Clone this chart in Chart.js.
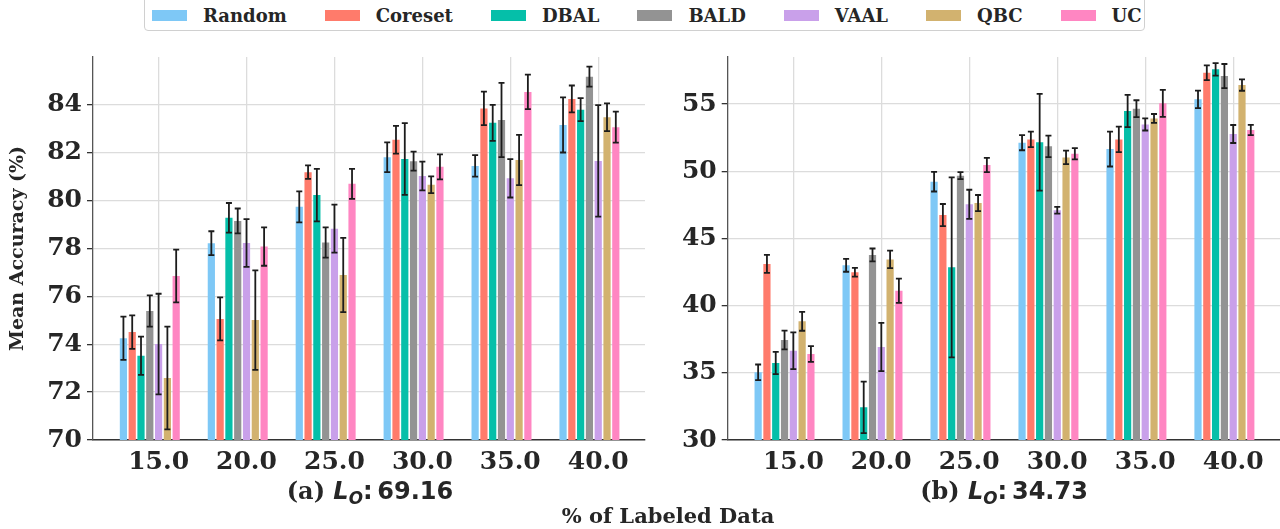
<!DOCTYPE html>
<html><head><meta charset="utf-8">
<script src="https://cdn.jsdelivr.net/npm/chart.js@4.4.1/dist/chart.umd.min.js"></script>
<style>
html,body{margin:0;padding:0;background:#fff;}
body{width:1280px;height:529px;position:relative;overflow:hidden;font-family:'DejaVu Serif',serif;}
#wa{position:absolute;left:0;top:0;width:660px;height:529px;}
#wb{position:absolute;left:660px;top:0;width:620px;height:529px;}
#legend{position:absolute;left:144px;top:-6px;width:1001px;height:37px;border:1px solid #d0d0d0;border-radius:4px;box-sizing:border-box;display:flex;align-items:center;padding-left:7px;padding-top:6px;background:#fff;z-index:5;}
.item{display:flex;align-items:center;margin-right:38px;font-weight:bold;font-size:18px;color:#262626;}
.sw{width:35px;height:11px;margin-right:16px;}
.cap{position:absolute;font-weight:bold;color:#262626;white-space:nowrap;transform:translate(-50%,-50%);font-size:24px;}
.math{font-family:'DejaVu Sans',sans-serif;font-weight:bold;}
.math sub{font-size:70%;vertical-align:-0.25em;}
</style>
</head><body>
<div id="legend"></div>
<div id="wa"><canvas id="ca" width="660" height="529"></canvas></div>
<div id="wb"><canvas id="cb" width="620" height="529"></canvas></div>
<div class="cap" style="left:370px;top:492px;">(a) <span class="math"><i>L<sub>O</sub></i>:&thinsp;69.16</span></div>
<div class="cap" style="left:1004px;top:492px;">(b) <span class="math"><i>L<sub>O</sub></i>:&thinsp;34.73</span></div>
<div class="cap" style="left:668px;top:515px;font-size:21px;">% of Labeled Data</div>
<script>
// ---- data ----
const categories = [15, 20, 25, 30, 35, 40];
const methods = ['Random', 'Coreset', 'DBAL', 'BALD', 'VAAL', 'QBC', 'UC'];
const colors = ['#7ec8f6', '#ff7b6b', '#05bfa9', '#939393', '#c9a0ea', '#d2b26f', '#ff86c2'];
const ticksA = [70, 72, 74, 76, 78, 80, 82, 84];
const ticksB = [30, 35, 40, 45, 50, 55];

// panel (a)
const randomA  = [74.25, 78.22, 79.74, 81.81, 81.45, 83.16];
const coresetA = [74.51, 75.06, 81.19, 82.54, 83.85, 84.25];
const dbalA    = [73.52, 79.28, 80.23, 81.74, 83.25, 83.80];
const baldA    = [75.39, 79.15, 78.25, 81.65, 83.37, 85.18];
const vaalA    = [74.01, 78.23, 78.83, 81.03, 80.93, 81.66];
const qbcA     = [72.59, 75.01, 76.89, 80.66, 81.70, 83.48];
const ucA      = [76.85, 78.08, 80.70, 81.41, 84.54, 83.07];
const randomErrA  = [0.90, 0.50, 0.65, 0.62, 0.45, 1.15];
const coresetErrA = [0.70, 0.90, 0.28, 0.58, 0.70, 0.56];
const dbalErrA    = [0.80, 0.62, 1.10, 1.50, 0.75, 0.48];
const baldErrA    = [0.65, 0.52, 0.63, 0.40, 1.55, 0.42];
const vaalErrA    = [2.10, 1.00, 1.00, 0.60, 0.80, 2.33];
const qbcErrA     = [2.15, 2.08, 1.55, 0.35, 1.05, 0.58];
const ucErrA      = [1.10, 0.80, 0.63, 0.52, 0.72, 0.65];

// panel (b)
const randomB  = [35.04, 43.00, 49.22, 52.12, 51.65, 55.35];
const coresetB = [43.10, 42.48, 46.74, 52.37, 52.37, 57.33];
const dbalB    = [35.73, 32.43, 42.85, 52.15, 54.48, 57.58];
const baldB    = [37.44, 43.77, 49.67, 51.85, 54.65, 57.08];
const vaalB    = [36.64, 36.92, 47.54, 47.09, 53.48, 52.77];
const qbcB     = [38.83, 43.44, 47.63, 51.03, 53.93, 56.41];
const ucB      = [36.40, 41.11, 50.46, 51.30, 55.05, 53.07];
const randomErrB  = [0.58, 0.48, 0.73, 0.56, 1.30, 0.65];
const coresetErrB = [0.67, 0.33, 0.82, 0.58, 0.95, 0.55];
const dbalErrB    = [0.83, 1.92, 6.70, 3.60, 1.20, 0.46];
const baldErrB    = [0.70, 0.48, 0.26, 0.80, 0.63, 0.90];
const vaalErrB    = [1.37, 1.80, 1.08, 0.25, 0.45, 0.67];
const qbcErrB     = [0.70, 0.65, 0.60, 0.50, 0.33, 0.42];
const ucErrB      = [0.58, 0.90, 0.53, 0.42, 1.00, 0.38];

// ---- legend (HTML) ----
const lg = document.getElementById('legend');
methods.forEach((m, i) => {
  const it = document.createElement('div'); it.className = 'item';
  const sw = document.createElement('span'); sw.className = 'sw'; sw.style.background = colors[i];
  const tx = document.createElement('span'); tx.textContent = m;
  it.appendChild(sw); it.appendChild(tx); lg.appendChild(it);
});

const FONT = 'DejaVu Serif';
const errorBars = {
  id: 'errorBars',
  afterDatasetsDraw(chart) {
    const ctx = chart.ctx, ys = chart.scales.y;
    ctx.save();
    ctx.strokeStyle = '#1c1c1c';
    ctx.lineWidth = 1.8;
    chart.data.datasets.forEach((ds, i) => {
      if (!ds.errs) return;
      const meta = chart.getDatasetMeta(i);
      meta.data.forEach((bar, j) => {
        const v = ds.data[j].y, e = ds.errs[j];
        const x = bar.x, t = ys.getPixelForValue(v + e), b = ys.getPixelForValue(v - e), cw = 3;
        ctx.beginPath();
        ctx.moveTo(x, t); ctx.lineTo(x, b);
        ctx.moveTo(x - cw, t); ctx.lineTo(x + cw, t);
        ctx.moveTo(x - cw, b); ctx.lineTo(x + cw, b);
        ctx.stroke();
      });
    });
    ctx.restore();
  }
};

function build(id, vals, errs, ymin, ymax, yticks, yW, padR, title) {
  const datasets = vals.map((v, i) => ({
    label: methods[i],
    data: categories.map((c, j) => ({x: c, y: v[j]})),
    backgroundColor: colors[i],
    borderWidth: 0,
    errs: errs[i]
  }));
  // two unused hue slots (as in the original grouped layout)
  datasets.push({label: '_pad1', data: []}, {label: '_pad2', data: []});
  return new Chart(document.getElementById(id), {
    type: 'bar',
    data: {datasets},
    options: {
      responsive: false,
      animation: false,
      categoryPercentage: 0.9,
      barPercentage: 0.82,
      layout: {padding: {top: 57, right: padR, left: 0, bottom: 0}},
      plugins: {legend: {display: false}, tooltip: {enabled: false}},
      scales: {
        x: {
          type: 'linear', min: 11.27, max: 42.66, offset: false,
          afterBuildTicks: s => { s.ticks = categories.map(v => ({value: v})); },
          afterFit: s => { s.height = 89; },
          ticks: {callback: v => Number(v).toFixed(1), font: {family: FONT, weight: 'bold', size: 25},
                  color: '#262626', padding: 7, maxRotation: 0, autoSkip: false},
          grid: {color: '#dcdcdc', lineWidth: 1.3, drawTicks: false, offset: false},
          border: {display: true, color: '#333', width: 1.5}
        },
        y: {
          min: ymin, max: ymax,
          afterBuildTicks: s => { s.ticks = yticks.map(v => ({value: v})); },
          afterFit: s => { s.width = yW; },
          ticks: {font: {family: FONT, weight: 'bold', size: 25}, color: '#262626', padding: 5},
          grid: {color: '#dcdcdc', lineWidth: 1.3, tickColor: '#333', tickLength: 6, drawTicks: true},
          border: {display: true, color: '#555', width: 1.3},
          title: {display: !!title, text: title || '', font: {family: FONT, weight: 'bold', size: 19},
                  color: '#262626', padding: {top: 7, bottom: 0}}
        }
      }
    },
    plugins: [errorBars]
  });
}

build('ca',
  [randomA, coresetA, dbalA, baldA, vaalA, qbcA, ucA],
  [randomErrA, coresetErrA, dbalErrA, baldErrA, vaalErrA, qbcErrA, ucErrA],
  70, 86, ticksA, 93, 15, 'Mean Accuracy (%)');
build('cb',
  [randomB, coresetB, dbalB, baldB, vaalB, qbcB, ucB],
  [randomErrB, coresetErrB, dbalErrB, baldErrB, vaalErrB, qbcErrB, ucErrB],
  30, 58.5, ticksB, 67.7, 0, null);
</script>
</body></html>
